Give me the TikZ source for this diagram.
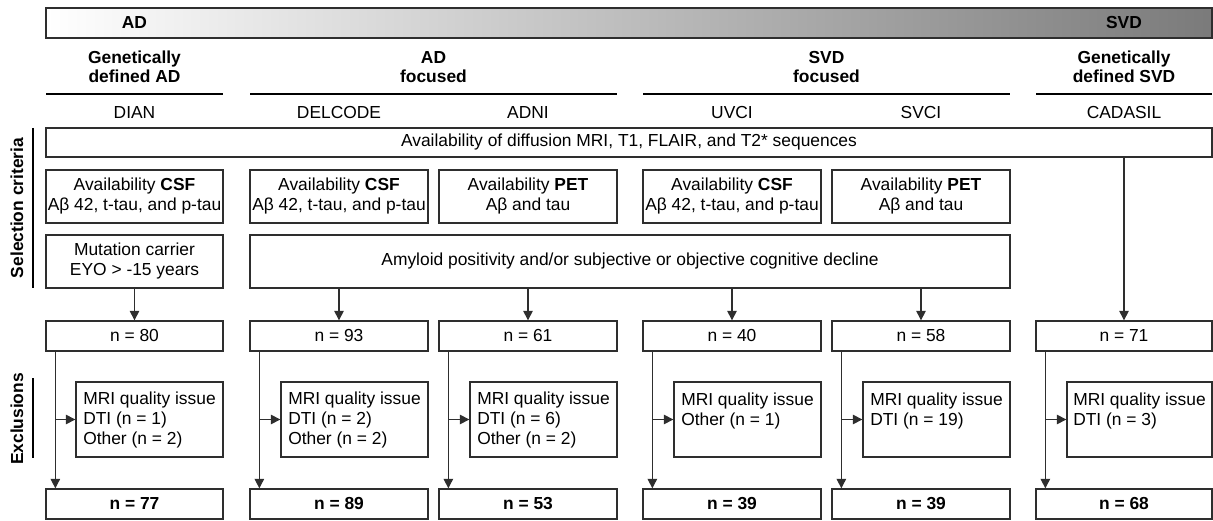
\documentclass[tikz,border=0pt]{standalone}
\usepackage{fontspec}
\setmainfont{Liberation Sans}
\usetikzlibrary{arrows.meta}
\definecolor{ln}{HTML}{2E2E2E}
\begin{document}
\begin{tikzpicture}[x=1pt,y=-1pt,
  font=\fontsize{17.4}{20}\selectfont,
  every node/.style={text=black},
  box/.style={draw=ln, line width=1.3pt, inner sep=0pt, align=center, minimum height=#1},
  box/.default=30,
  colbox/.style={box=#1, minimum width=178},
  nbox/.style={box=30, minimum width=178},
  exbox/.style={draw=ln, line width=1.3pt, inner sep=0pt, align=left, minimum width=147, minimum height=75},
  hdr/.style={font=\fontsize{17.4}{19.5}\selectfont\bfseries, align=center},
  rule/.style={draw=black, line width=2.4pt},
  side/.style={font=\fontsize{17.4}{20}\selectfont\bfseries, rotate=90},
  arr/.style={draw=ln, line width=1.1pt, -{Triangle[length=9.5pt,width=9.5pt]}},
  bfn/.style={font=\fontsize{17.4}{20}\selectfont\bfseries},
]
\useasboundingbox (0,0) rectangle (1213,521);

% top gradient bar
\node[draw=ln, line width=1.3pt, left color=white, right color=black!52, minimum width=1166, minimum height=30, inner sep=0pt] (bar) at (629,23) {};
\node[bfn] (lblAD) at (134.5,23) {AD};
\node[bfn] (lblSVD) at (1124,23) {SVD};

% group headers
\node[hdr] (g1) at (134.5,67) {Genetically\\defined AD};
\node[hdr] (g2) at (433.5,67) {AD\\focused};
\node[hdr] (g3) at (826.5,67) {SVD\\focused};
\node[hdr] (g4) at (1124,67) {Genetically\\defined SVD};
\draw[rule] (46,94) -- (223,94);
\draw[rule] (250,94) -- (617,94);
\draw[rule] (643,94) -- (1010,94);
\draw[rule] (1036,94) -- (1212,94);

% cohort names
\node (k1) at (134.5,113) {DIAN};
\node (k2) at (339,113) {DELCODE};
\node (k3) at (528,113) {ADNI};
\node (k4) at (732,113) {UVCI};
\node (k5) at (921,113) {SVCI};
\node (k6) at (1124,113) {CADASIL};

% side labels
\node[side] (selc) at (17,208) {Selection criteria};
\draw[line width=2pt] (33,128) -- (33,288);
\node[side] (excl) at (17,419) {Exclusions};
\draw[line width=2pt] (33,378) -- (33,458);

% selection criteria
\node[box=29, minimum width=1166] (mri) at (629,142.5) {Availability of diffusion MRI, T1, FLAIR, and T2* sequences};

\node[colbox=53, minimum width=177] (s1) at (134.5,196.5) {Availability \textbf{CSF}\\Aβ 42, t-tau, and p-tau};
\node[colbox=53] (s2) at (339,196.5) {Availability \textbf{CSF}\\Aβ 42, t-tau, and p-tau};
\node[colbox=53] (s3) at (528,196.5) {Availability \textbf{PET}\\Aβ and tau};
\node[colbox=53] (s4) at (732,196.5) {Availability \textbf{CSF}\\Aβ 42, t-tau, and p-tau};
\node[colbox=53] (s5) at (921,196.5) {Availability \textbf{PET}\\Aβ and tau};

\node[colbox=53, minimum width=177] (m1) at (134.5,261.5) {Mutation carrier\\EYO > -15 years};
\node[box=53, minimum width=760] (amy) at (630,261.5) {Amyloid positivity and/or subjective or objective cognitive decline};

% n boxes
\node[nbox, minimum width=177] (n1) at (134.5,336) {n = 80};
\node[nbox] (n2) at (339,336) {n = 93};
\node[nbox] (n3) at (528,336) {n = 61};
\node[nbox] (n4) at (732,336) {n = 40};
\node[nbox] (n5) at (921,336) {n = 58};
\node[nbox, minimum width=176] (n6) at (1124,336) {n = 71};

\draw[arr] (m1.south) -- (n1.north);
\draw[arr] (n2.north |- amy.south) -- (n2.north);
\draw[arr] (n3.north |- amy.south) -- (n3.north);
\draw[arr] (n4.north |- amy.south) -- (n4.north);
\draw[arr] (n5.north |- amy.south) -- (n5.north);
\draw[arr] (n6.north |- mri.south) -- (n6.north);

% exclusion boxes
\node[exbox] (e1) at (149.5,419.5) {MRI quality issue\\DTI (n = 1)\\Other (n = 2)};
\node[exbox] (e2) at (354.5,419.5) {MRI quality issue\\DTI (n = 2)\\Other (n = 2)};
\node[exbox] (e3) at (543.5,419.5) {MRI quality issue\\DTI (n = 6)\\Other (n = 2)};
\node[exbox] (e4) at (747.5,419.5) {MRI quality issue\\Other (n = 1)\\\mbox{}};
\node[exbox] (e5) at (936.5,419.5) {MRI quality issue\\DTI (n = 19)\\\mbox{}};
\node[exbox, minimum width=145] (e6) at (1139.5,419.5) {MRI quality issue\\DTI (n = 3)\\\mbox{}};

% final boxes
\node[nbox, minimum width=177, bfn] (f1) at (134.5,504) {n = 77};
\node[nbox, bfn] (f2) at (339,504) {n = 89};
\node[nbox, bfn] (f3) at (528,504) {n = 53};
\node[nbox, bfn] (f4) at (732,504) {n = 39};
\node[nbox, bfn] (f5) at (921,504) {n = 39};
\node[nbox, minimum width=176, bfn] (f6) at (1124,504) {n = 68};

% exclusion flows
\foreach \i in {1,...,6}{
  \draw[arr] ([xshift=10pt]n\i.south west) -- ([xshift=10pt]f\i.north west);
  \draw[arr] ([xshift=10pt]n\i.south west |- e\i.west) -- (e\i.west);
}
\end{tikzpicture}
\end{document}
